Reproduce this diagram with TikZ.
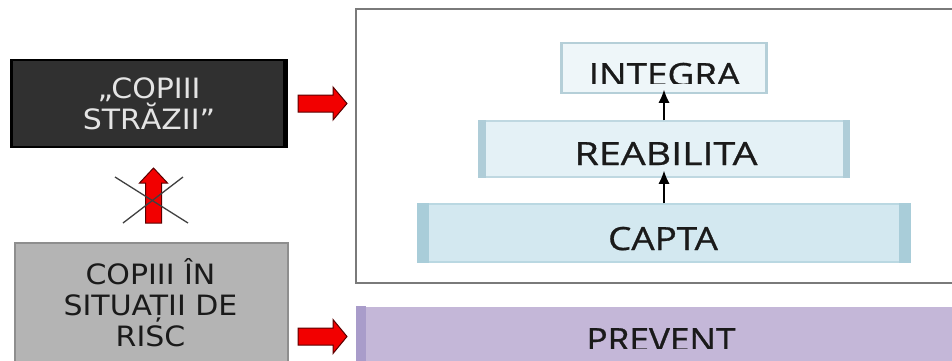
\documentclass[tikz,border=0pt]{standalone}
\usepackage{fontspec}
\usepackage{graphicx}
\setmainfont{DejaVu Sans}
\newfontfamily\stagefont[FakeBold=0.8]{Open Sans}
\usetikzlibrary{arrows.meta}

\definecolor{streetfill}{HTML}{303030}
\definecolor{streettext}{HTML}{E4E4E4}
\definecolor{riskfill}{HTML}{B4B4B4}
\definecolor{riskdraw}{HTML}{8E8E8E}
\definecolor{redfill}{HTML}{F20000}
\definecolor{reddraw}{HTML}{5A0000}
\definecolor{framegray}{HTML}{7A7A7A}
\definecolor{integrafill}{HTML}{EEF6F9}
\definecolor{integradraw}{HTML}{B5CFD8}
\definecolor{reabfill}{HTML}{E4F1F6}
\definecolor{reabbar}{HTML}{AFCDD8}
\definecolor{captafill}{HTML}{D3E8F0}
\definecolor{captabar}{HTML}{A9CDD9}
\definecolor{preventfill}{HTML}{C4B7D8}
\definecolor{preventbar}{HTML}{A99CCA}
\definecolor{crossgray}{HTML}{404040}
\definecolor{labelink}{HTML}{1A1A1A}

% horizontal stretch for the wide label lettering
\newcommand\stagewide[2][1.15]{\scalebox{#1}[1]{#2}}
\newcommand\leftwide[1]{\scalebox{1.07}[1]{#1}}

\begin{document}
\begin{tikzpicture}[x=1pt,y=-1pt,
  leftbox/.style={inner sep=0pt, align=center,
    font=\fontsize{28}{27}\selectfont},
  stagebox/.style={inner sep=0pt, line width=1.5pt},
  stagetext/.style={inner sep=0pt, anchor=base, text=labelink,
    font=\stagefont\fontsize{32}{32}\selectfont},
  blockarrow/.style={fill=redfill, draw=reddraw, line width=1pt, line join=miter},
  steparrow/.style={draw=black, line width=1.2pt, -{Latex[length=13pt,width=11pt]}},
  crossline/.style={draw=crossgray, line width=1.3pt}
]
\useasboundingbox (0,0) rectangle (952,360);

% left column: street children and children at risk
\node[leftbox, fill=streetfill, draw=black, line width=1.5pt, text=streettext,
      minimum width=276pt, minimum height=87pt] (street) at (149,103.5)
      {\leftwide{„COPIII}\\\leftwide{STRĂZII”}};
\fill[black] (street.north west) rectangle ([xshift=3pt]street.south west);
\fill[black] ([xshift=-5pt]street.north east) rectangle (street.south east);

\node[leftbox, fill=riskfill, draw=riskdraw, line width=2pt, text=labelink,
      minimum width=273pt, minimum height=124pt] (risk) at (151.5,305) {};
\node[leftbox, text=labelink, font=\fontsize{28}{31}\selectfont]
      (risktext) at (150.5,302.5)
      {\leftwide{COPIII ÎN}\\\leftwide{SITUAȚII DE}\\\leftwide{RISC}};

% crossed-out upward block arrow between the two boxes
\coordinate (up) at (153.5,223);
\draw[blockarrow] (up) ++(-8,0) -- ++(0,-40) -- ++(-6,0) -- ++(14,-15)
      -- ++(14,15) -- ++(-6,0) -- ++(0,40) -- cycle;
\draw[crossline] (115,177) -- (188,223);
\draw[crossline] (123,223) -- (183,177);

% right-pointing block arrows
\coordinate (ra) at (298,103.5);
\draw[blockarrow] (ra) ++(0,-8.5) -- ++(35,0) -- ++(0,-8) -- ++(14,16.5)
      -- ++(-14,16.5) -- ++(0,-8) -- ++(-35,0) -- cycle;
\coordinate (rb) at (298,336.5);
\draw[blockarrow] (rb) ++(0,-8.5) -- ++(35,0) -- ++(0,-8.5) -- ++(14,17)
      -- ++(-14,17) -- ++(0,-8.5) -- ++(-35,0) -- cycle;

% frame around the intervention steps
\node[draw=framegray, line width=2pt, inner sep=0pt, minimum width=610pt,
      minimum height=274pt] (frame) at (661,146) {};

% intervention steps
\node[stagebox, fill=integrafill, draw=integradraw, minimum width=206pt,
      minimum height=50pt] (integra) at (664,68) {};
\fill[integradraw] (integra.north west) rectangle ([xshift=3pt]integra.south west);
\fill[integradraw] ([xshift=-3pt]integra.north east) rectangle (integra.south east);
\begin{scope}
  \clip (integra.north west) rectangle ([yshift=10pt]integra.south east);
  \node[stagetext] (integratext) at (664.5,86) {\stagewide{INTEGRA}};
\end{scope}

\node[stagebox, fill=reabfill, draw=reabbar!70!reabfill, minimum width=370pt,
      minimum height=56pt] (reab) at (664,149) {};
\fill[reabbar] (reab.north west) rectangle ([xshift=8pt]reab.south west);
\fill[reabbar] ([xshift=-7pt]reab.north east) rectangle (reab.south east);
\node[stagetext] (reabtext) at (666,165) {\stagewide[1.23]{REABILITA}};

\node[stagebox, fill=captafill, draw=captabar!60!captafill, minimum width=492pt,
      minimum height=58pt] (capta) at (664,233) {};
\fill[captabar] (capta.north west) rectangle ([xshift=12pt]capta.south west);
\fill[captabar] ([xshift=-12pt]capta.north east) rectangle (capta.south east);
\node[stagetext] (captatext) at (663,250) {\stagewide{CAPTA}};

\draw[steparrow] (capta.north) -- ([yshift=7pt]reab.south);
\draw[steparrow] (reab.north) -- ([yshift=4pt]integra.south);

% prevention band
\node[stagebox, fill=preventfill, draw=none, minimum width=603pt,
      minimum height=65pt] (prevent) at (658.5,339.5) {};
\fill[preventbar] (prevent.north west) rectangle ([xshift=10pt]prevent.south west);
\begin{scope}
  \clip (prevent.north west) rectangle ([yshift=24pt]prevent.south east);
  \node[stagetext] (preventtext) at (661,351) {\stagewide[1.1]{PREVENT}};
\end{scope}
\end{tikzpicture}
\end{document}
